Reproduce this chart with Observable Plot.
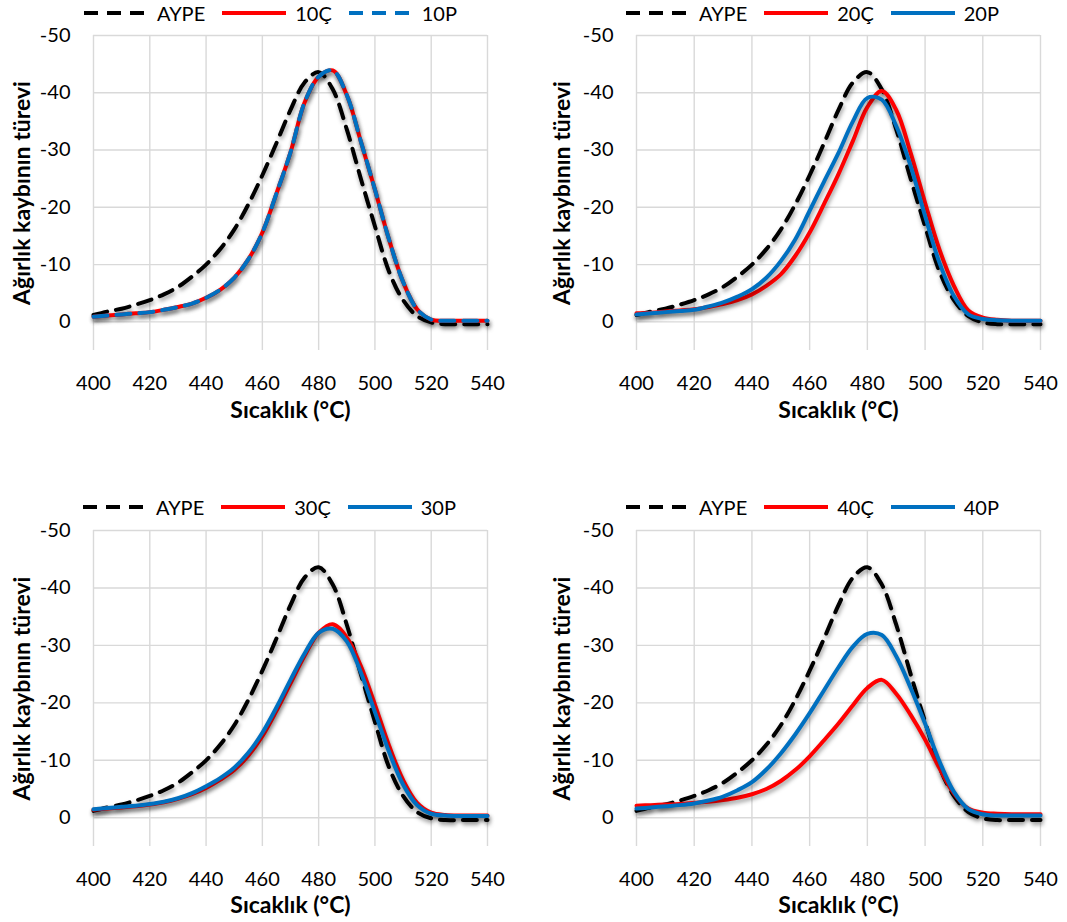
<!DOCTYPE html>
<html>
<head>
<meta charset="utf-8">
<script src="https://cdn.jsdelivr.net/npm/d3@7"></script>
<script src="https://cdn.jsdelivr.net/npm/@observablehq/plot@0.6"></script>
<style>
  html, body { margin: 0; padding: 0; background: #fff; }
  #root { position: relative; width: 1067px; height: 922px; overflow: hidden; font-family: Lato, "Open Sans", sans-serif; }
  .panel { position: absolute; }
  .legend { position: absolute; display: flex; align-items: center; height: 24px; font-size: 20px; color: #000; white-space: nowrap; }
  .legend .item { display: flex; align-items: center; margin-right: 16px; }
  .legend svg { margin-right: 8px; }
  svg g[aria-label="line"] { filter: drop-shadow(1.5px 3px 2px rgba(0,0,0,0.38)); }
</style>
</head>
<body>
<div id="root"></div>
<script>
// Temperature grid (°C)
const temps = [400,405,410,415,420,425,430,435,440,445,450,455,460,465,470,475,480,485,490,495,500,505,510,515,520,525,530,535,540];

// Derivative of weight loss (same scale as the original, negative = loss)
const aype = [-1.2,-1.8,-2.3,-3.0,-3.8,-4.8,-6.1,-7.9,-10.0,-12.7,-16.1,-20.5,-25.6,-31.2,-37.0,-41.8,-43.6,-40.6,-33.6,-25.0,-16.7,-8.8,-3.8,-1.0,0.1,0.4,0.4,0.4,0.4];

const s10C = [-0.9,-1.1,-1.3,-1.5,-1.7,-2.1,-2.6,-3.2,-4.2,-5.6,-7.7,-10.9,-15.6,-22.4,-29.6,-38.3,-42.8,-43.9,-39.6,-31.5,-23.1,-14.4,-7.0,-2.2,-0.4,-0.2,-0.2,-0.2,-0.2];
const s10P = [-0.9,-1.1,-1.3,-1.5,-1.7,-2.1,-2.6,-3.2,-4.2,-5.6,-7.7,-10.9,-15.6,-22.4,-29.6,-38.3,-42.8,-43.9,-39.6,-31.5,-23.1,-14.4,-7.0,-2.2,-0.4,-0.2,-0.2,-0.2,-0.2];

const s20C = [-1.5,-1.6,-1.8,-2.0,-2.2,-2.6,-3.1,-3.8,-4.8,-6.3,-8.3,-11.5,-15.6,-20.6,-25.8,-31.6,-37.5,-40.3,-37.0,-29.5,-20.8,-12.6,-6.3,-2.0,-0.75,-0.35,-0.2,-0.2,-0.2];
const s20P = [-1.3,-1.5,-1.7,-1.9,-2.1,-2.7,-3.4,-4.4,-5.7,-7.7,-10.6,-14.4,-19.4,-24.5,-29.5,-35.0,-39.1,-38.8,-34.2,-27.2,-18.5,-10.3,-4.5,-1.3,-0.5,-0.3,-0.2,-0.2,-0.2];

const s30C = [-1.4,-1.6,-1.8,-2.0,-2.3,-2.7,-3.3,-4.1,-5.2,-6.6,-8.3,-10.8,-14.2,-18.6,-23.4,-28.2,-32.2,-33.7,-31.4,-26.4,-19.7,-12.6,-6.6,-2.6,-0.9,-0.5,-0.4,-0.4,-0.4];
const s30P = [-1.5,-1.7,-1.9,-2.1,-2.4,-2.8,-3.4,-4.3,-5.5,-6.9,-8.7,-11.3,-14.8,-19.2,-24.0,-28.6,-32.2,-32.9,-30.7,-25.3,-18.4,-11.5,-5.8,-2.2,-0.7,-0.4,-0.3,-0.3,-0.3];

const s40C = [-2.1,-2.2,-2.3,-2.4,-2.6,-2.8,-3.1,-3.5,-4.1,-5.0,-6.4,-8.3,-10.7,-13.5,-16.4,-19.6,-22.6,-24.0,-21.6,-17.9,-13.6,-8.6,-4.2,-1.6,-0.9,-0.7,-0.6,-0.6,-0.6];
const s40P = [-1.6,-1.8,-2.0,-2.2,-2.5,-3.0,-3.7,-4.8,-6.2,-8.4,-11.2,-14.5,-18.2,-22.2,-26.2,-29.8,-32.0,-31.8,-28.1,-22.6,-16.4,-9.8,-4.5,-1.5,-0.6,-0.4,-0.4,-0.4,-0.4];

// Axis ticks and labels
const xTicks = [400,420,440,460,480,500,520,540];
const yTicks = [-50,-40,-30,-20,-10,0];
const xTitle = "Sıcaklık (°C)";
const yTitle = "Ağırlık kaybının türevi";
const refName = "AYPE";
const panelNames = [["10Ç","10P"],["20Ç","20P"],["30Ç","30P"],["40Ç","40P"]];
const panelSeries = [[s10C,s10P],[s20C,s20P],[s30C,s30P],[s40C,s40P]];

const RED = "#ff0000", BLUE = "#0070c0";

const layouts = [
  {left: 0,   top: 25,  width: 530, mL: 93, mR: 43, mB: 75, legLeft: 83,  legTop: 1,   titleDy: 60},
  {left: 540, top: 25,  width: 527, mL: 96, mR: 27, mB: 75, legLeft: 625, legTop: 1,   titleDy: 60},
  {left: 0,   top: 520, width: 530, mL: 93, mR: 43, mB: 74, legLeft: 82,  legTop: 495, titleDy: 59},
  {left: 540, top: 520, width: 527, mL: 96, mR: 27, mB: 74, legLeft: 625, legTop: 495, titleDy: 59}
];

const toRows = vals => temps.map((T, i) => ({T, v: vals[i]}));
const root = document.getElementById("root");

function swatch(color, dash) {
  const ns = "http://www.w3.org/2000/svg";
  const s = document.createElementNS(ns, "svg");
  s.setAttribute("width", 66); s.setAttribute("height", 8);
  const l = document.createElementNS(ns, "line");
  l.setAttribute("x1", 1); l.setAttribute("x2", 65); l.setAttribute("y1", 4); l.setAttribute("y2", 4);
  l.setAttribute("stroke", color); l.setAttribute("stroke-width", 4);
  if (dash) l.setAttribute("stroke-dasharray", dash);
  s.appendChild(l);
  return s;
}

layouts.forEach((L, k) => {
  const [nC, nP] = panelNames[k];
  const [vC, vP] = panelSeries[k];
  const pDash = k === 0 ? "14,9" : null;

  const chart = Plot.plot({
    width: L.width,
    height: 400,
    marginLeft: L.mL,
    marginRight: L.mR,
    marginTop: 10,
    marginBottom: L.mB,
    style: {fontFamily: "Lato, 'Open Sans', sans-serif", fontSize: "20px", color: "#000", background: "transparent", overflow: "visible"},
    x: {domain: [400, 540]},
    y: {domain: [-50, 5], reverse: true},
    marks: [
      Plot.gridX(xTicks, {stroke: "#d9d9d9", strokeOpacity: 1, strokeWidth: 1.4}),
      Plot.gridY(yTicks, {stroke: "#d9d9d9", strokeOpacity: 1, strokeWidth: 1.4}),
      Plot.axisX(xTicks, {tickSize: 0, tickPadding: 25, label: null, fontSize: 20, tickFormat: d => String(d)}),
      Plot.axisY(yTicks, {tickSize: 0, tickPadding: 23, label: null, fontSize: 20, tickFormat: d => String(d)}),
      Plot.line(toRows(aype), {x: "T", y: "v", stroke: "#000", strokeWidth: 4, strokeDasharray: "14,9", curve: "catmull-rom"}),
      Plot.line(toRows(vC), {x: "T", y: "v", stroke: RED, strokeWidth: 4, curve: "catmull-rom"}),
      Plot.line(toRows(vP), {x: "T", y: "v", stroke: BLUE, strokeWidth: 4, strokeDasharray: pDash, curve: "catmull-rom"}),
      Plot.text([xTitle], {frameAnchor: "bottom", dy: L.titleDy, fontWeight: "bold", fontSize: 23, textAnchor: "middle", lineAnchor: "middle"}),
      Plot.text([yTitle], {frameAnchor: "left", dx: 22 - L.mL, rotate: -90, fontWeight: "bold", fontSize: 23, textAnchor: "middle", lineAnchor: "middle"})
    ]
  });
  const wrap = document.createElement("div");
  wrap.className = "panel";
  wrap.style.left = L.left + "px";
  wrap.style.top = L.top + "px";
  wrap.appendChild(chart);
  root.appendChild(wrap);

  const leg = document.createElement("div");
  leg.className = "legend";
  leg.style.left = L.legLeft + "px";
  leg.style.top = L.legTop + "px";
  [[refName, "#000", "14,9"], [nC, RED, null], [nP, BLUE, pDash]].forEach(([name, c, d]) => {
    const it = document.createElement("div");
    it.className = "item";
    it.appendChild(swatch(c, d));
    const sp = document.createElement("span");
    sp.textContent = name;
    it.appendChild(sp);
    leg.appendChild(it);
  });
  root.appendChild(leg);
});
</script>
</body>
</html>
